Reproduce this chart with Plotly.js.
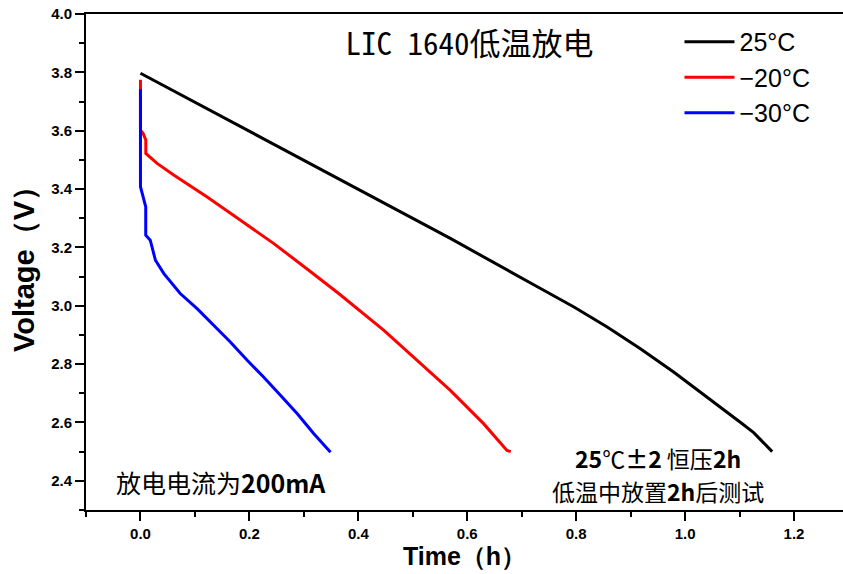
<!DOCTYPE html>
<html>
<head>
<meta charset="utf-8">
<script src="https://cdn.plot.ly/plotly-3.0.1.min.js"></script>
<style>html,body{margin:0;padding:0;background:#fff;}#chart{width:843px;height:574px;}</style>
</head>
<body>
<div id="chart"></div>
<script>
// Series names
const seriesNames = ['25°C', '\u221220°C', '\u221230°C'];

// 25 °C discharge (time h, voltage V)
const t25 = [0, 0.1745, 0.3245, 0.447, 0.569, 0.7346, 0.796, 0.857, 0.918, 0.979, 1.041, 1.102, 1.126, 1.157, 1.160];
const v25 = [3.797, 3.623, 3.475, 3.354, 3.231, 3.059, 2.996, 2.927, 2.853, 2.773, 2.687, 2.600, 2.565, 2.504, 2.500];

// -20 °C discharge
const tM20 = [0, 0, 0.005, 0.0098, 0.0098, 0.0306, 0.061, 0.1225, 0.1837, 0.245, 0.306, 0.364, 0.447, 0.508, 0.569, 0.630, 0.673, 0.680];
const vM20 = [3.775, 3.602, 3.590, 3.568, 3.522, 3.488, 3.448, 3.373, 3.293, 3.213, 3.126, 3.042, 2.916, 2.813, 2.710, 2.596, 2.504, 2.500];

// -30 °C discharge
const tM30 = [0, 0, 0.0097, 0.0097, 0.018, 0.0275, 0.043, 0.073, 0.104, 0.135, 0.165, 0.196, 0.226, 0.257, 0.288, 0.318, 0.349];
const vM30 = [3.742, 3.408, 3.339, 3.242, 3.225, 3.156, 3.110, 3.042, 2.990, 2.933, 2.876, 2.813, 2.756, 2.693, 2.630, 2.562, 2.498];

const colors = ['#000000', '#ff0000', '#0000ff'];

const chartTitle = 'LIC 1640低温放电';
const xTitle = 'Time（h）';
const yTitle = 'Voltage（V）';
const note1 = '放电电流为<b>200mA</b>';
const note2a = '<b>25</b>℃<b>±2</b> 恒压<b>2h</b>';
const note2b = '低温中放置<b>2h</b>后测试';

const sansLatin = 'Liberation Sans, Arial, sans-serif';
const cjk = 'Noto Sans CJK SC, Noto Sans, sans-serif';
const cjkMono = 'Noto Sans Mono CJK SC, Noto Sans CJK SC, sans-serif';

const series = [[t25, v25], [tM20, vM20], [tM30, vM30]];
const traces = series.map((s, i) => ({
  x: s[0], y: s[1], type: 'scatter', mode: 'lines', name: seriesNames[i],
  line: {color: colors[i], width: 3}
}));

const axisCommon = {
  showgrid: false, zeroline: false, showline: true, linecolor: '#000', linewidth: 2,
  ticks: 'outside', ticklen: 9, tickwidth: 2, tickcolor: '#000',
  tickfont: {family: sansLatin, size: 15, color: '#000', weight: 'bold'},
  dtick: 0.2, tickformat: '.1f',
  minor: {dtick: 0.1, ticks: 'outside', ticklen: 5, tickwidth: 2, tickcolor: '#000'}
};

const layout = {
  width: 843, height: 574,
  margin: {l: 86, r: 0, t: 14, b: 64},
  paper_bgcolor: '#fff', plot_bgcolor: '#fff',
  title: {text: chartTitle, font: {family: cjkMono, size: 31, color: '#000'},
          x: 0.557, xanchor: 'center', y: 0.923, yanchor: 'middle'},
  xaxis: Object.assign({}, axisCommon, {
    range: [-0.1, 1.29], mirror: true,
    title: {text: xTitle, font: {family: sansLatin, size: 25, color: '#000', weight: 'bold'}, standoff: 5}
  }),
  yaxis: Object.assign({}, axisCommon, {
    range: [2.3, 4.0], mirror: false,
    title: {text: yTitle, font: {family: sansLatin, size: 29, color: '#000', weight: 'bold'}, standoff: 8}
  }),
  showlegend: true,
  legend: {x: 0.784, xanchor: 'left', y: 0.99, yanchor: 'top', bgcolor: 'rgba(0,0,0,0)',
           font: {family: sansLatin, size: 25, color: '#000'}, itemwidth: 50},
  annotations: [
    {x: 0.147, y: 2.395, xref: 'x', yref: 'y', text: note1, showarrow: false,
     font: {family: cjk, size: 25, color: '#000'}, xanchor: 'center', yanchor: 'middle'},
    {x: 0.9495, y: 2.478, xref: 'x', yref: 'y', text: note2a, showarrow: false,
     font: {family: cjk, size: 23, color: '#000'}, xanchor: 'center', yanchor: 'middle', borderpad: 0},
    {x: 0.9495, y: 2.364, xref: 'x', yref: 'y', text: note2b, showarrow: false,
     font: {family: cjk, size: 23, color: '#000'}, xanchor: 'center', yanchor: 'middle', borderpad: 0}
  ]
};

Plotly.newPlot('chart', traces, layout, {displayModeBar: false, staticPlot: true});
</script>
</body>
</html>
